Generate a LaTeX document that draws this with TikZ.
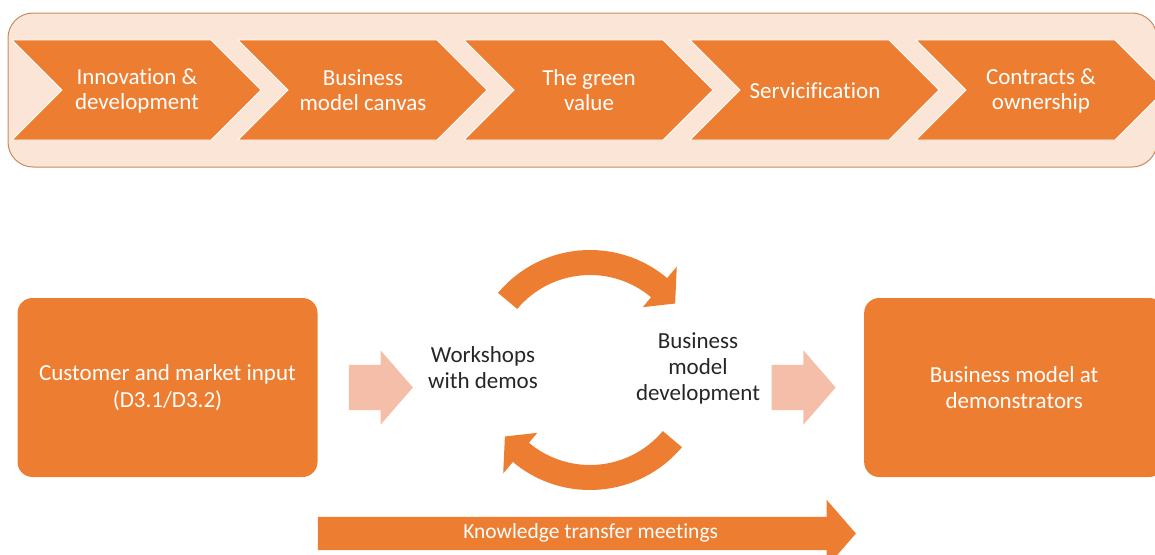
\documentclass[tikz,border=0pt]{standalone}
\usepackage{fontspec}
\setmainfont{Carlito}[Ligatures=NoCommon]
\usetikzlibrary{positioning, shapes.arrows}
\definecolor{accent}{HTML}{ED7D31}
\definecolor{bandfill}{HTML}{FBE5D6}
\definecolor{bandline}{HTML}{C98A5E}
\definecolor{softarrow}{HTML}{F4BEA8}
\definecolor{darktext}{HTML}{262626}

\begin{document}
\begin{tikzpicture}[
        x=1pt, y=1pt,
        chevron/.style={fill=accent, draw=white, line width=0.8pt},
        steplabel/.style={text=white, align=center, font=\fontsize{23}{25}\selectfont},
        box/.style={fill=accent, rounded corners=15pt, minimum width=300pt, minimum height=179pt,
                    text=white, align=center},
        midlabel/.style={text=darktext, align=center, font=\fontsize{23}{26}\selectfont},
        push/.style={single arrow, draw=none, fill=softarrow, inner xsep=0pt, inner ysep=22.5pt,
                     minimum height=64pt, single arrow head extend=14.5pt, single arrow tip angle=98},
        transfer/.style={single arrow, draw=none, fill=accent, inner xsep=0pt, inner ysep=7.5pt,
                     text height=14pt, text depth=4pt, minimum height=538pt, single arrow head extend=17pt,
                     single arrow tip angle=98, text=white, font=\fontsize{21.5}{24}\selectfont},
        ]
        \useasboundingbox (0,0) rectangle (1155,-554);
        \clip (0,0) rectangle (1155,-554);

        % top band with the five stages
        \draw[bandline, fill=bandfill, line width=1pt, rounded corners=25pt] (8,-13) rectangle (1157,-167);
        \foreach \txt [count=\i from 0] in {{Innovation \&\\development}, {Business\\model canvas},
                {The green\\value}, {Servicification}, {Contracts \&\\ownership}} {
            \pgfmathsetmacro{\x}{12+226*\i}
            \draw[chevron] (\x,-40) -- ({\x+199},-40) -- ({\x+249},-90) -- ({\x+199},-140)
                -- (\x,-140) -- ({\x+50},-90) -- cycle;
            \node[steplabel] (stage\i) at ({\x+125},-90.5) {\txt};
        }

        % lower part
        \node[box, font=\fontsize{23}{27}\selectfont] (input) at (167.5,-387.5)
            {Customer and market input\\(D3.1/D3.2)};
        \node[push, right=31pt of input] (pushin) {};
        \node[midlabel] (workshop) at (483,-368) {Workshops\\with demos};
        \node[midlabel] (bmdev) at (698,-368) {Business\\model\\development};
        \node[push, right=8pt of bmdev.east |- pushin] (pushout) {};
        \node[box, right=28pt of pushout, font=\fontsize{23}{26}\selectfont] (demo)
            {Business model at\\demonstrators};
        \node[transfer, anchor=tail] (meetings) at (input.east |- 0,-533.5)
            {\hspace*{22pt}Knowledge transfer meetings};

        % the two bent arrows between the middle texts
        \coordinate (hub) at (590,-370);
        \foreach \turn in {0,180} {
            \begin{scope}[shift={(hub)}, rotate=\turn]
                \fill[accent] (140:120pt) arc[start angle=140, end angle=50, radius=120pt]
                    -- (50:135pt) -- (38:108pt) -- (50:82pt) -- (50:95pt)
                    arc[start angle=50, end angle=140, radius=95pt] -- cycle;
            \end{scope}
        }
      \end{tikzpicture}
\end{document}
